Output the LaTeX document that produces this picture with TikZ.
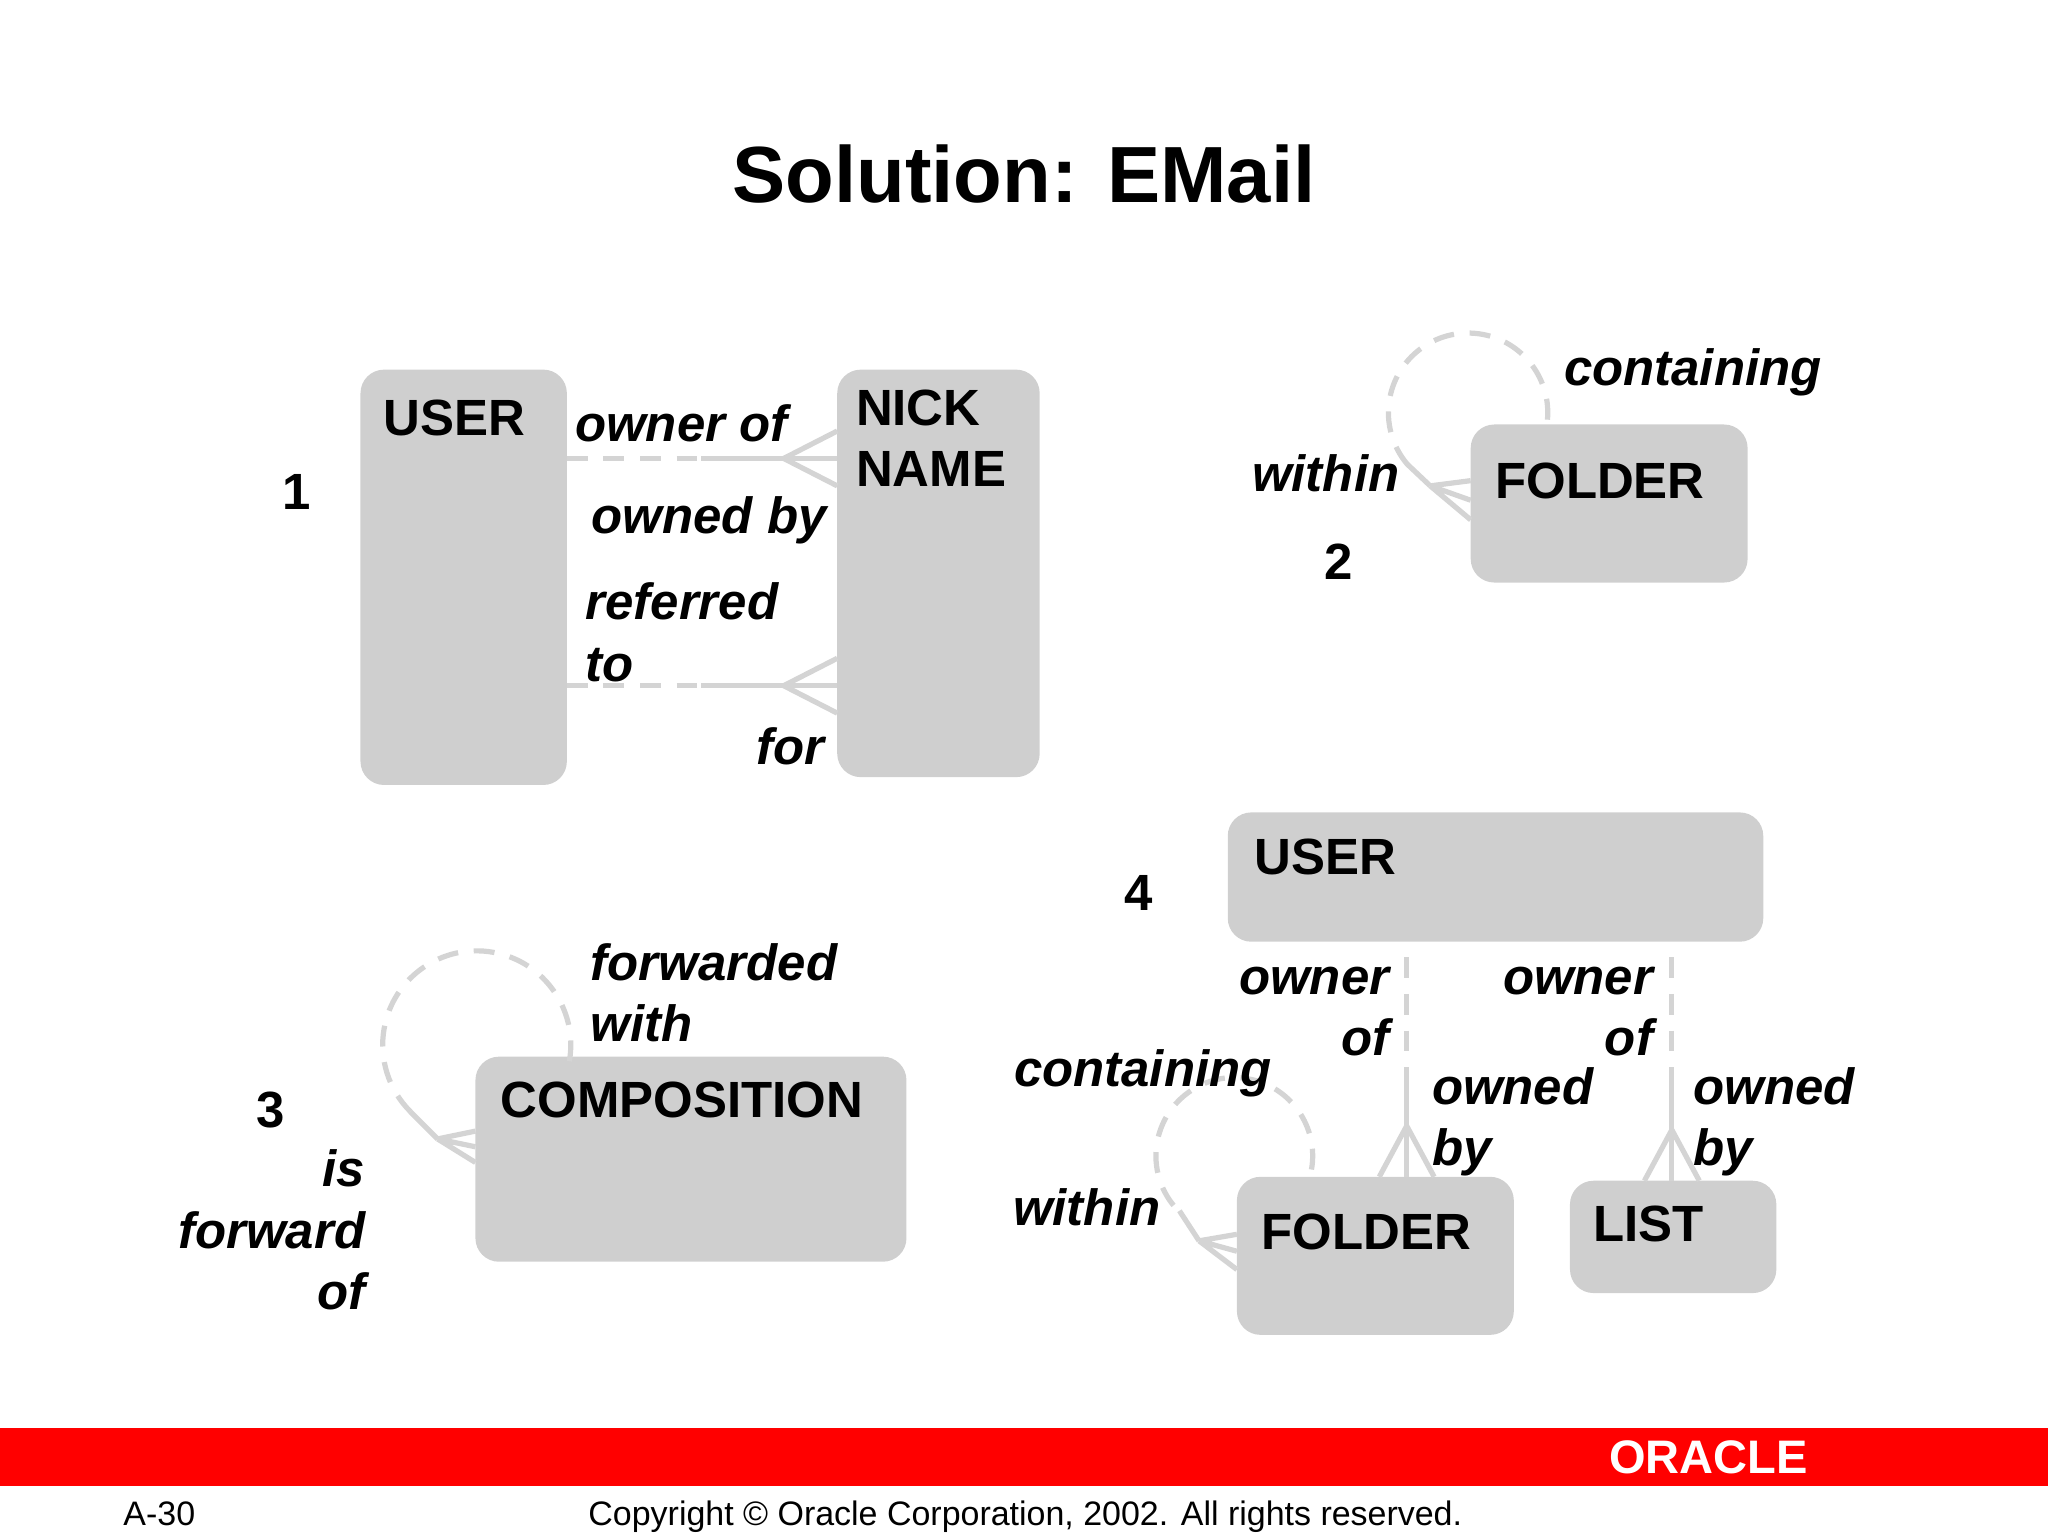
\documentclass[tikz,border=0pt]{standalone}
\usepackage{fontspec}
\setmainfont{Liberation Sans}
\begin{document}
\begin{tikzpicture}[x=0.5pt,y=-0.5pt,
  ent/.style={fill=black!19,rounded corners=9pt,draw=none},
  lbl/.style={font=\bfseries\fontsize{19.5}{23.5}\selectfont,inner sep=0pt},
  rl/.style={font=\bfseries\itshape\fontsize{19.5}{23.5}\selectfont,inner sep=0pt},
  ln/.style={draw=black!17,line width=2pt},
  dl/.style={ln,dash pattern=on 8pt off 6pt}]
\useasboundingbox (0,0) rectangle (1568,1176);
\node[font=\bfseries\fontsize{30.5}{36}\selectfont] (title) at (784,133) {Solution: EMail};
% entities
\path[ent] (276,283) rectangle (434,601);
\path[ent] (641,283) rectangle (796,595);
\path[ent] (1126,325) rectangle (1338,446);
\path[ent] (364,809) rectangle (694,966);
\path[ent] (940,622) rectangle (1350,721);
\path[ent] (947,901) rectangle (1159,1022);
\path[ent] (1202,904) rectangle (1360,990);
\node[lbl] (u1) at (348,320) {USER};
\node[lbl,align=left,anchor=north west] (nn) at (655,298) {NICK\\NAME};
\node[lbl] (f2) at (1225,368) {FOLDER};
\node[lbl] (comp) at (522,842) {COMPOSITION};
\node[lbl] (u4) at (1015,656) {USER};
\node[lbl] (f4) at (1046,943) {FOLDER};
\node[lbl] (li) at (1262,937) {LIST};
% numbers
\node[lbl] (n1) at (227,377) {1};
\node[lbl] (n2) at (1025,430) {2};
\node[lbl] (n3) at (207,850) {3};
\node[lbl] (n4) at (872,684) {4};
% relationship 1
\coordinate (a1) at (434,351); \coordinate (m1) at (537,351); \coordinate (b1) at (641,351);
\draw[dl] (a1) -- (m1); \draw[ln] (m1) -- (b1);
\draw[ln] (600,351) -- (641,330) (600,351) -- (641,372);
\coordinate (a2) at (434,525); \coordinate (m2) at (537,525); \coordinate (b2) at (641,525);
\draw[dl] (a2) -- (m2); \draw[ln] (m2) -- (b2);
\draw[ln] (600,525) -- (641,504) (600,525) -- (641,546);
\node[rl,anchor=west] at (440,324) {owner of};
\node[rl] at (543,398) {owned by};
\node[rl,align=left,anchor=north west] at (448,446) {referred\\to};
\node[rl] at (605,571) {for};
% loop 2
\draw[dl] (1124,316) ++(5:61) arc[start angle=5,end angle=-220,radius=61];
\draw[ln] (1077,355) -- (1095,372);
\draw[ln] (1095,372) -- (1126,368) (1095,372) -- (1126,383) (1095,372) -- (1126,398);
\node[rl] at (1296,285) {containing};
\node[rl] at (1015,362) {within};
% loop 3
\draw[dl] (365,800) ++(10:72) arc[start angle=10,end angle=-225,radius=72];
\draw[ln] (314,851) -- (335,872);
\draw[ln] (335,872) -- (364,866) (335,872) -- (364,878) (335,872) -- (364,890);
\node[rl,align=left,anchor=north west] at (452,722) {forwarded\\with};
\node[rl,align=right,anchor=north east] at (280,880) {is\\forward\\of};
% loop 4
\draw[dl] (945,885) ++(10:60) arc[start angle=10,end angle=-225,radius=60];
\draw[ln] (903,927) -- (918,950);
\draw[ln] (918,950) -- (947,945) (918,950) -- (947,958) (918,950) -- (947,972);
\node[rl] at (875,822) {containing};
\node[rl] at (832,924) {within};
% user4 rels
\draw[dl] (1077,733) -- (1077,820); \draw[ln] (1077,820) -- (1077,901);
\draw[ln] (1077,862) -- (1056,901) (1077,862) -- (1098,901);
\draw[dl] (1280,733) -- (1280,820); \draw[ln] (1280,820) -- (1280,904);
\draw[ln] (1280,865) -- (1259,904) (1280,865) -- (1301,904);
\node[rl,align=right,anchor=north east] at (1064,740) {owner\\of};
\node[rl,align=right,anchor=north east] at (1266,740) {owner\\of};
\node[rl,align=left,anchor=north west] at (1096,817) {owned\\by};
\node[rl,align=left,anchor=north west] at (1296,817) {owned\\by};
% footer
\fill[red] (0,1093) rectangle (1568,1138);
\node[text=white,font=\bfseries\fontsize{18}{20}\selectfont,inner sep=0pt] (or) at (1308,1116) {ORACLE};
\node[font=\fontsize{13}{15}\selectfont] (pg) at (122,1159) {A-30};
\node[font=\fontsize{13}{15}\selectfont] (cp) at (785,1161) {Copyright © Oracle Corporation, 2002. All rights reserved.};
\end{tikzpicture}
\end{document}
